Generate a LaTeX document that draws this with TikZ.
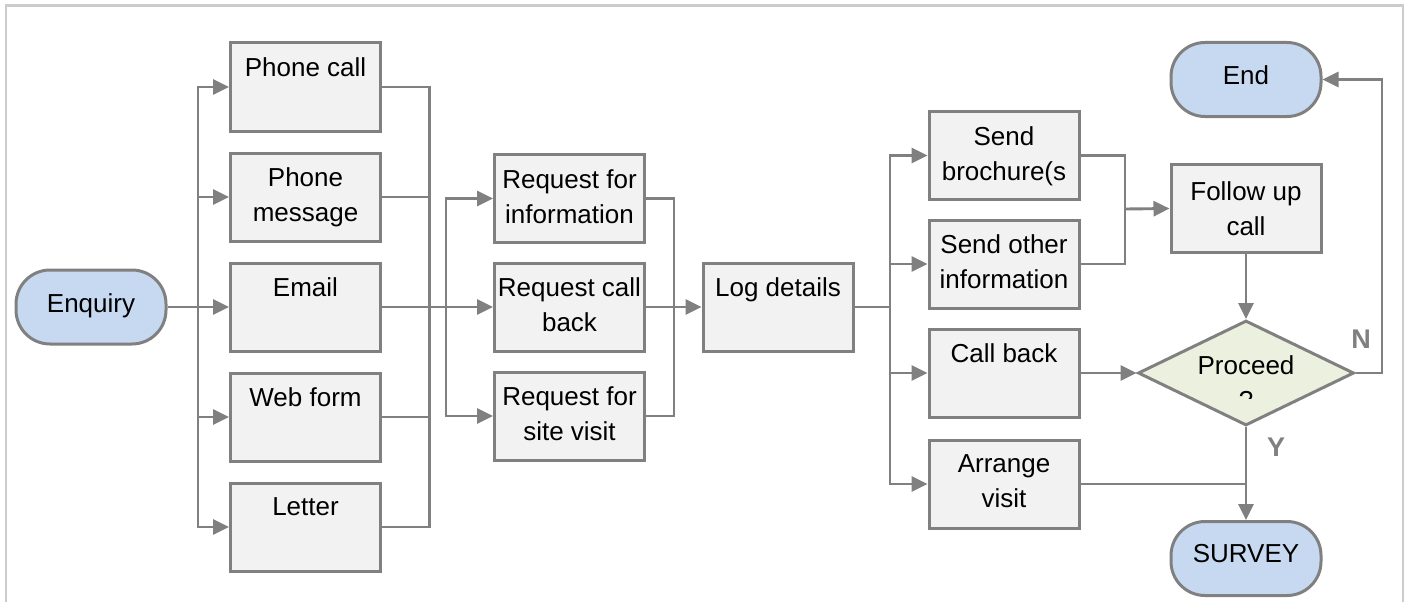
\documentclass[tikz,border=0pt]{standalone}
\usepackage{fontspec}
\setmainfont{Liberation Sans}
\usetikzlibrary{arrows.meta,shapes.geometric}
\definecolor{edge}{HTML}{808080}
\definecolor{boxfill}{HTML}{F2F2F2}
\definecolor{termfill}{HTML}{C6D9F1}
\definecolor{diafill}{HTML}{EBF1DE}
\definecolor{framecol}{HTML}{CCCCCC}
\tikzset{
  procbox/.style={draw=edge, line width=3pt, fill=boxfill, minimum width=150pt, minimum height=88pt, inner sep=0pt},
  term/.style={draw=edge, line width=3pt, fill=termfill, rounded corners=34pt, minimum width=150pt, minimum height=74pt, inner sep=0pt},
  decision/.style={diamond, draw=edge, line width=3pt, fill=diafill, minimum width=216pt, minimum height=105pt, inner sep=0pt},
  txt/.style={font=\fontsize{26}{35}\selectfont, align=center, inner sep=0pt, anchor=north},
  conn/.style={draw=edge, line width=2.9pt},
  arr/.style={conn, -{Triangle[length=16pt,width=15pt]}},
  yn/.style={font=\fontsize{27}{30}\selectfont\bfseries, text=edge, inner sep=0pt},
  framelines/.style={draw=framecol, line width=2.2pt}
}
\begin{document}
\begin{tikzpicture}[x=1pt,y=-1pt]
\useasboundingbox (0,0) rectangle (1410,602);
\draw[framelines] (6,602) -- (6,5.5) -- (1403,5.5) -- (1403,602);

% terminals
\node[term] (enq) at (91,307) {};
\node[term] (end) at (1246,79.5) {};
\node[term] (sv) at (1246,558.5) {};
\node[txt] (tenq) at ([yshift=-25pt]enq.north) {Enquiry};
\node[txt] (tend) at ([yshift=-24pt]end.north) {End};
\node[txt] (tsv) at ([yshift=-24pt]sv.north) {SURVEY};

% left column
\node[procbox] (pc) at (305.5,87) {};
\node[procbox] (pm) at (305.5,197) {};
\node[procbox] (em) at (305.5,307) {};
\node[procbox] (wf) at (305.5,417) {};
\node[procbox] (le) at (305.5,527) {};
\node[txt] (tpc) at ([yshift=-16pt]pc.north) {Phone call};
\node[txt] (tpm) at ([yshift=-16pt]pm.north) {Phone\\message};
\node[txt] (tem) at ([yshift=-16pt]em.north) {Email};
\node[txt] (twf) at ([yshift=-16pt]wf.north) {Web form};
\node[txt] (tle) at ([yshift=-16pt]le.north) {Letter};

% middle column
\node[procbox] (ri) at (569.5,198.5) {};
\node[procbox] (rc) at (569.5,307) {};
\node[procbox] (rs) at (569.5,416) {};
\node[txt] (tri) at ([yshift=-16pt]ri.north) {Request for\\information};
\node[txt] (trc) at ([yshift=-16pt]rc.north) {Request call\\back};
\node[txt] (trs) at ([yshift=-16pt]rs.north) {Request for\\site visit};

\node[procbox] (log) at (778,307) {};
\node[txt] (tlog) at ([yshift=-16pt]log.north) {Log details};

% right column
\node[procbox] (sb) at (1004,155.5) {};
\node[procbox] (so) at (1004,264) {};
\node[procbox] (cb) at (1004,373) {};
\node[procbox] (av) at (1004,484) {};
\node[txt] (tsb) at ([yshift=-16pt]sb.north) {Send\\brochure(s};
\node[txt] (tso) at ([yshift=-16pt]so.north) {Send other\\information};
\node[txt] (tcb) at ([yshift=-16pt]cb.north) {Call back};
\node[txt] (tav) at ([yshift=-16pt]av.north) {Arrange\\visit};

\node[procbox] (fu) at (1246,208.5) {};
\node[txt] (tfu) at ([yshift=-18pt]fu.north) {Follow up\\call};

\node[decision] (dia) at (1246,373) {};
\begin{scope}
\clip (1130,300) rectangle (1360,398);
\node[txt] (tdia) at (1246,355) {Proceed\\?};
\end{scope}

% junction coordinates
\coordinate (b1) at (198,307);
\coordinate (m1) at (429.5,307);
\coordinate (b2) at (446,307);
\coordinate (m2) at (674,307);
\coordinate (b3) at (890,307);
\coordinate (m3) at (1125,209);
\coordinate (nturn) at (1382,373);

% connectors: enquiry to channels
\draw[arr] (enq.east) -- (em.west);
\draw[arr] (b1) |- (pc.west);
\draw[arr] (b1) |- (pm.west);
\draw[arr] (b1) |- (wf.west);
\draw[arr] (b1) |- (le.west);

% channels merge
\draw[conn] (pc.east) -| (m1);
\draw[conn] (pm.east) -| (m1);
\draw[conn] (wf.east) -| (m1);
\draw[conn] (le.east) -| (m1);
\draw[conn] (em.east) -- (b2);

% to requests
\draw[arr] (b2) -- (rc.west);
\draw[arr] (b2) |- (ri.west);
\draw[arr] (b2) |- (rs.west);

% requests merge to log
\draw[conn] (ri.east) -| (m2);
\draw[conn] (rs.east) -| (m2);
\draw[arr] (rc.east) -- (log.west);

% log to actions
\draw[conn] (log.east) -- (b3);
\draw[arr] (b3) |- (sb.west);
\draw[arr] (b3) |- (so.west);
\draw[arr] (b3) |- (cb.west);
\draw[arr] (b3) |- (av.west);

% send merge to follow up
\draw[conn] (sb.east) -| (m3);
\draw[conn] (so.east) -| (m3);
\draw[arr] (m3) -- (fu.west);

\draw[arr] (fu.south) -- (dia.north);
\draw[arr] (cb.east) -- (dia.west);
\draw[arr] (dia.east) -- (nturn) |- (end.east);
\draw[arr] (dia.south) -- (sv.north);
\draw[conn] (av.east) -- (av.east -| dia.south);

\node[yn] (lN) at (1361,339) {N};
\node[yn] (lY) at (1276,447.5) {Y};
\end{tikzpicture}
\end{document}
